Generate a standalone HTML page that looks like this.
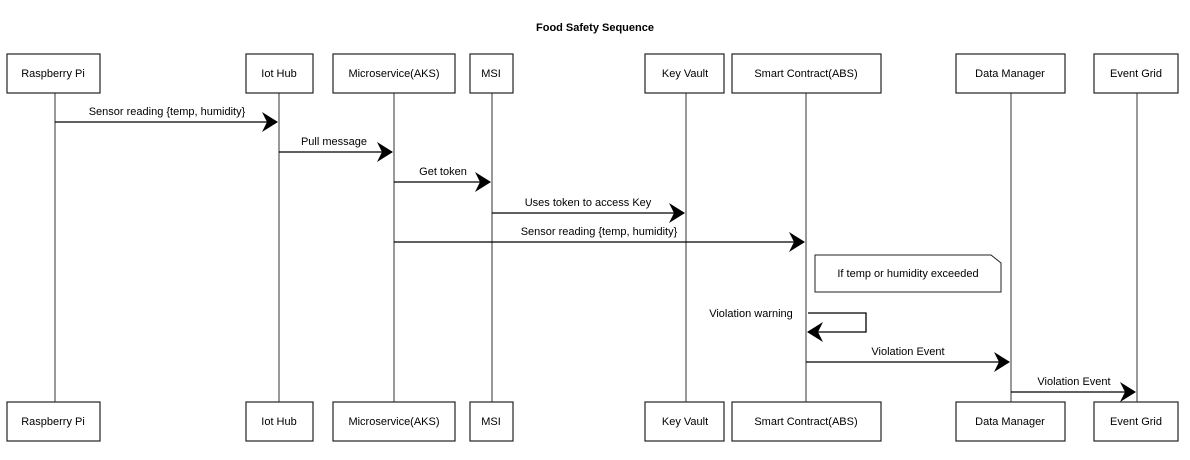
<!DOCTYPE html>
<html><head><meta charset="utf-8"><style>
body{margin:0;background:#fff;}
svg{display:block;font-family:"Liberation Sans",sans-serif;}
</style></head><body>
<svg width="1190" height="460" viewBox="0 0 1190 460" xmlns="http://www.w3.org/2000/svg">
<defs>
<marker id="a" markerWidth="16" markerHeight="20" refX="15" refY="10" orient="auto" markerUnits="userSpaceOnUse">
<path d="M0,0 L16,10 L0,20 L5,10 Z" fill="#000"/>
</marker>
</defs>
<text x="595" y="31" text-anchor="middle" font-size="11" font-weight="bold">Food Safety Sequence</text>
<g stroke="#333" stroke-width="1" fill="none">
<line x1="55" y1="93" x2="55" y2="402"/>
<line x1="279" y1="93" x2="279" y2="402"/>
<line x1="394" y1="93" x2="394" y2="402"/>
<line x1="492" y1="93" x2="492" y2="402"/>
<line x1="686" y1="93" x2="686" y2="402"/>
<line x1="806" y1="93" x2="806" y2="402"/>
<line x1="1011" y1="93" x2="1011" y2="402"/>
<line x1="1137" y1="93" x2="1137" y2="402"/>
</g>
<g stroke="#222" stroke-width="1.2" fill="#fff">
<rect x="7" y="54" width="93" height="39"/><rect x="7" y="402" width="93" height="39"/>
<rect x="246" y="54" width="67" height="39"/><rect x="246" y="402" width="67" height="39"/>
<rect x="333" y="54" width="122" height="39"/><rect x="333" y="402" width="122" height="39"/>
<rect x="470" y="54" width="43" height="39"/><rect x="470" y="402" width="43" height="39"/>
<rect x="645" y="54" width="79" height="39"/><rect x="645" y="402" width="79" height="39"/>
<rect x="732" y="54" width="149" height="39"/><rect x="732" y="402" width="149" height="39"/>
<rect x="956" y="54" width="109" height="39"/><rect x="956" y="402" width="109" height="39"/>
<rect x="1094" y="54" width="84" height="39"/><rect x="1094" y="402" width="84" height="39"/>
</g>
<g font-size="11" text-anchor="middle">
<text x="53" y="77">Raspberry Pi</text><text x="53" y="425">Raspberry Pi</text>
<text x="279" y="77">Iot Hub</text><text x="279" y="425">Iot Hub</text>
<text x="394" y="77">Microservice(AKS)</text><text x="394" y="425">Microservice(AKS)</text>
<text x="491" y="77">MSI</text><text x="491" y="425">MSI</text>
<text x="685" y="77">Key Vault</text><text x="685" y="425">Key Vault</text>
<text x="806" y="77">Smart Contract(ABS)</text><text x="806" y="425">Smart Contract(ABS)</text>
<text x="1010" y="77">Data Manager</text><text x="1010" y="425">Data Manager</text>
<text x="1136" y="77">Event Grid</text><text x="1136" y="425">Event Grid</text>
</g>
<g stroke="#000" stroke-width="1.3" fill="none" marker-end="url(#a)">
<line x1="55" y1="122" x2="277" y2="122"/>
<line x1="279" y1="152" x2="392" y2="152"/>
<line x1="394" y1="182" x2="490" y2="182"/>
<line x1="492" y1="213" x2="684" y2="213"/>
<line x1="394" y1="242" x2="804" y2="242"/>
<path d="M808,313 L866,313 L866,332 L808,332"/>
<line x1="806" y1="362" x2="1009" y2="362"/>
<line x1="1011" y1="392" x2="1135" y2="392"/>
</g>
<g font-size="11" text-anchor="middle">
<text x="167" y="115">Sensor reading {temp, humidity}</text>
<text x="334" y="145">Pull message</text>
<text x="443" y="175">Get token</text>
<text x="588" y="206">Uses token to access Key</text>
<text x="599" y="235">Sensor reading {temp, humidity}</text>
<text x="751" y="317">Violation warning</text>
<text x="908" y="355">Violation Event</text>
<text x="1074" y="385">Violation Event</text>
</g>
<path d="M815,255 L991,255 L1001,263 L1001,292 L815,292 Z" fill="#fff" stroke="#222" stroke-width="1"/>
<text x="908" y="277" font-size="11" text-anchor="middle">If temp or humidity exceeded</text>
</svg>
</body></html>
